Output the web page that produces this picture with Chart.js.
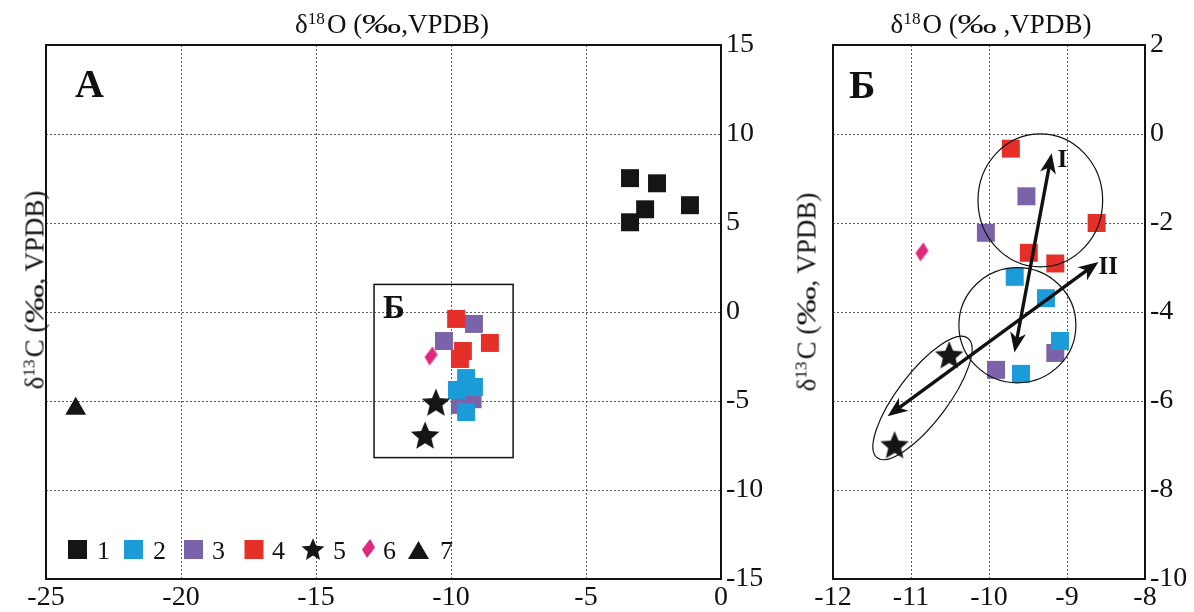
<!DOCTYPE html>
<html><head><meta charset="utf-8">
<script src="https://cdn.jsdelivr.net/npm/chart.js@4.4.1/dist/chart.umd.min.js"></script>
<style>
html,body{margin:0;padding:0;background:#fff;width:1194px;height:612px;overflow:hidden}
#c1{position:absolute;left:0;top:0}
#c2{position:absolute;left:770px;top:0}
.t{position:absolute;font-family:'Liberation Serif','Times New Roman',serif;font-size:27px;color:#111;white-space:nowrap;line-height:1.15}
.t sup{font-size:0.64em;vertical-align:0.5em;line-height:0;margin-right:2px}
.pm{display:inline-block;transform:scaleX(1.45);margin:0 6px}
</style></head>
<body>
<canvas id="c1" width="770" height="612"></canvas>
<canvas id="c2" width="424" height="612"></canvas>
<div class="t" style="left:392px;top:25px;transform:translate(-50%,-50%)">δ<sup>18</sup>O (<span class="pm">‰</span>,VPDB)</div>
<div class="t" style="left:991px;top:25px;transform:translate(-50%,-50%)">δ<sup>18</sup>O (<span class="pm">‰</span> ,VPDB)</div>
<div class="t" style="left:35px;top:290px;transform:translate(-50%,-50%) rotate(-90deg)">δ<sup>13</sup>C (<span class="pm">‰</span>, VPDB)</div>
<div class="t" style="left:807px;top:292px;transform:translate(-50%,-50%) rotate(-90deg)">δ<sup>13</sup>C (<span class="pm">‰</span>, VPDB)</div>
<script>
// ---------------- DATA ----------------
const seriesLabels = ['1','2','3','4','5','6','7'];

// Panel A (overview)
const xTicksA = [-25,-20,-15,-10,-5,0];
const yTicksA = [-15,-10,-5,0,5,10,15];
const A1_d18O = [-3.37,-2.37,-2.81,-1.15,-3.37];
const A1_d13C = [7.52,7.23,5.77,6.00,5.04];
const A2_d18O = [-9.44,-9.78,-9.15,-9.44];
const A2_d13C = [-3.71,-4.38,-4.21,-5.62];
const A3_d18O = [-9.15,-10.26,-9.67,-9.20];
const A3_d13C = [-0.67,-1.63,-5.22,-4.90];
const A4_d18O = [-9.81,-8.56,-9.56,-9.67];
const A4_d13C = [-0.39,-1.74,-2.19,-2.64];
const A5_d18O = [-10.56,-10.96];
const A5_d13C = [-5.06,-6.91];
const A6_d18O = [-10.74];
const A6_d13C = [-2.47];
const A7_d18O = [-23.9];
const A7_d13C = [-5.43];
const boxB = [-12.85, 1.55, -7.70, -8.18]; // x1, y1, x2, y2 of inset frame

// Panel Б (detail)
const xTicksB = [-12,-11,-10,-9,-8];
const yTicksB = [-10,-8,-6,-4,-2,0,2];
const B2_d18O = [-9.67,-9.27,-9.09,-9.59];
const B2_d13C = [-3.21,-3.69,-4.65,-5.39];
const B3_d18O = [-9.52,-10.04,-9.91,-9.15];
const B3_d13C = [-1.40,-2.22,-5.30,-4.92];
const B4_d18O = [-9.72,-8.62,-9.49,-9.15];
const B4_d13C = [-0.33,-2.00,-2.67,-2.91];
const B5_d18O = [-10.51,-11.21];
const B5_d13C = [-4.96,-6.98];
const B6_d18O = [-10.86];
const B6_d13C = [-2.65];
// annotations (data units)
const ellipseI  = [-9.342,-1.492,0.799,1.493];  // cx, cy, rx, ry
const ellipseII = [-9.636,-4.297,0.750,1.294];
const ellipseStars = [-11.434,-7.275,-10.271,-4.589]; // major-axis ends
const arrowI  = [-9.674,-4.91,-9.197,-0.433];
const arrowII = [-11.30,-6.34,-8.597,-2.874];
const labelI  = [-9.06,-0.60];
const labelII = [-8.47,-3.01];

// ---------------- STYLE ----------------
const FONT = "'Liberation Serif','Times New Roman',serif";
const COL = {k:'#151515', blue:'#1b9bd8', purple:'#7a63a8', red:'#e5302a', pink:'#e1287f'};

function makeStar(R, inner, color){
  const s = Math.ceil(2*R)+2, c = document.createElement('canvas');
  c.width = s; c.height = s;
  const g = c.getContext('2d'); g.fillStyle = color; g.beginPath();
  for (let i=0;i<10;i++){
    const r = i%2 ? R*inner : R, a = -Math.PI/2 + i*Math.PI/5;
    const px = s/2 + r*Math.cos(a), py = s/2 + 0.1*R + r*Math.sin(a);
    i ? g.lineTo(px,py) : g.moveTo(px,py);
  }
  g.closePath(); g.fill(); return c;
}
function makeDiamond(w,h,color){
  const c = document.createElement('canvas'); c.width = w+2; c.height = h+2;
  const g = c.getContext('2d'); g.fillStyle = color; g.beginPath();
  g.moveTo(1+w*0.62,1); g.lineTo(1+w,1+h*0.45); g.lineTo(1+w*0.38,1+h); g.lineTo(1,1+h*0.55);
  g.closePath(); g.fill(); return c;
}
const starImg = makeStar(15,0.45,COL.k);
const starLeg = makeStar(12,0.45,COL.k);
const diaImg = makeDiamond(13,19,COL.pink);
const diaLeg = makeDiamond(13,19,COL.pink);

function pts(xs,ys){ return xs.map((v,i)=>({x:v,y:ys[i]})); }
function sq(label,data,color,order){ return {label,data,pointStyle:'rect',pointRadius:12.7,backgroundColor:color,borderColor:color,borderWidth:0,order}; }

function xAxis(tk){
  return {type:'linear',position:'bottom',min:tk[0],max:tk[tk.length-1],
    afterBuildTicks:s=>{s.ticks = tk.map(v=>({value:v}));},
    afterFit:s=>{s.height = 33;},
    ticks:{font:{family:FONT,size:28},color:'#111',padding:2,maxRotation:0,autoSkip:false,callback:(v,i)=>String(tk[i])},
    grid:{color:'#5a5a5a',lineWidth:1,drawTicks:false},
    border:{display:false,dash:[2,2]}};
}
function yAxis(tk){
  return {type:'linear',position:'right',min:tk[0],max:tk[tk.length-1],
    afterBuildTicks:s=>{s.ticks = tk.map(v=>({value:v}));},
    afterFit:s=>{s.width = 49;},
    ticks:{font:{family:FONT,size:28},color:'#111',padding:5,autoSkip:false,callback:(v,i)=>String(tk[i])},
    grid:{color:'#5a5a5a',lineWidth:1,drawTicks:false},
    border:{display:false,dash:[2,2]}};
}

const framePlugin = {id:'frame', afterDraw(chart){
  const {ctx,chartArea:a} = chart; ctx.save(); ctx.strokeStyle='#111'; ctx.lineWidth=2;
  ctx.strokeRect(a.left,a.top,a.right-a.left,a.bottom-a.top); ctx.restore();
}};

function panelLetter(text,dx,base){ return {id:'letter'+text, afterDraw(chart){
  const {ctx,chartArea:a} = chart; ctx.save(); ctx.fillStyle='#111';
  ctx.font = "bold 40px "+FONT; ctx.textBaseline='alphabetic'; ctx.fillText(text,a.left+dx,base); ctx.restore();
}};}

const legendPlugin = {id:'legendA', afterDraw(chart){
  const ctx = chart.ctx; ctx.save();
  const mx = [77.5,133.5,193.5,254,313,368.5,418.5], tx = [97,153,212,272,333,383,440], base = 558.5;
  chart.data.datasets.forEach((ds,i)=>{
    const st = ds.pointStyle, c = mx[i];
    ctx.fillStyle = ds.backgroundColor;
    if (st === 'rect') ctx.fillRect(c-9.5,540,19,19);
    else if (st === 'triangle'){ ctx.beginPath(); ctx.moveTo(c,541); ctx.lineTo(c+10.5,559); ctx.lineTo(c-10.5,559); ctx.closePath(); ctx.fill(); }
    else if (st === starImg) ctx.drawImage(starLeg,c-starLeg.width/2,549-starLeg.height/2);
    else if (st === diaImg) ctx.drawImage(diaLeg,c-diaLeg.width/2,548.5-diaLeg.height/2);
    ctx.fillStyle='#111'; ctx.font = "26px "+FONT; ctx.textBaseline='alphabetic';
    ctx.fillText(ds.label,tx[i],base);
  });
  ctx.restore();
}};

const boxPlugin = {id:'boxB', afterDatasetsDraw(chart){
  const {ctx,scales:{x,y}} = chart;
  const x0=x.getPixelForValue(boxB[0]), y0=y.getPixelForValue(boxB[1]), x1=x.getPixelForValue(boxB[2]), y1=y.getPixelForValue(boxB[3]);
  ctx.save(); ctx.strokeStyle='#111'; ctx.lineWidth=1.5; ctx.strokeRect(x0,y0,x1-x0,y1-y0);
  ctx.fillStyle='#111'; ctx.font="bold 33px "+FONT; ctx.textBaseline='alphabetic'; ctx.fillText('Б',x0+9,y0+34);
  ctx.restore();
}};

function drawHead(ctx,x,y,a){
  const L=20, W=8;
  const c=Math.cos(a), s=Math.sin(a);
  ctx.beginPath(); ctx.moveTo(x,y);
  ctx.lineTo(x-L*c-W*s, y-L*s+W*c);
  ctx.lineTo(x-0.72*L*c, y-0.72*L*s);
  ctx.lineTo(x-L*c+W*s, y-L*s-W*c);
  ctx.closePath(); ctx.fill();
}
function drawArrow(ctx,x1,y1,x2,y2){
  const a=Math.atan2(y2-y1,x2-x1), c=Math.cos(a), s=Math.sin(a), k=14;
  ctx.beginPath(); ctx.moveTo(x1+k*c,y1+k*s); ctx.lineTo(x2-k*c,y2-k*s); ctx.stroke();
  drawHead(ctx,x2,y2,a); drawHead(ctx,x1,y1,a+Math.PI);
}
const annoPlugin = {id:'annoB', afterDatasetsDraw(chart){
  const {ctx,scales:{x,y}} = chart; const X=v=>x.getPixelForValue(v), Y=v=>y.getPixelForValue(v);
  ctx.save(); ctx.strokeStyle='#111'; ctx.fillStyle='#111'; ctx.lineWidth=1.2;
  [ellipseI,ellipseII].forEach(e=>{
    ctx.beginPath(); ctx.ellipse(X(e[0]),Y(e[1]),Math.abs(X(e[0]+e[2])-X(e[0])),Math.abs(Y(e[1]+e[3])-Y(e[1])),0,0,Math.PI*2); ctx.stroke();
  });
  const ax=X(ellipseStars[0]), ay=Y(ellipseStars[1]), bx=X(ellipseStars[2]), by=Y(ellipseStars[3]);
  ctx.beginPath(); ctx.ellipse((ax+bx)/2,(ay+by)/2,Math.hypot(bx-ax,by-ay)/2,25,Math.atan2(by-ay,bx-ax),0,Math.PI*2); ctx.stroke();
  ctx.lineWidth=3.4;
  drawArrow(ctx,X(arrowI[0]),Y(arrowI[1]),X(arrowI[2]),Y(arrowI[3]));
  drawArrow(ctx,X(arrowII[0]),Y(arrowII[1]),X(arrowII[2]),Y(arrowII[3]));
  ctx.font="bold 25px "+FONT; ctx.textAlign='center'; ctx.textBaseline='middle';
  ctx.fillText('I',X(labelI[0]),Y(labelI[1]));
  ctx.fillText('II',X(labelII[0]),Y(labelII[1]));
  ctx.restore();
}};

const common = {responsive:false,animation:false,events:[],
  plugins:{legend:{display:false},tooltip:{enabled:false},title:{display:false}}};

new Chart(document.getElementById('c1'),{
  type:'scatter',
  data:{datasets:[
    sq(seriesLabels[0],pts(A1_d18O,A1_d13C),COL.k,5),
    sq(seriesLabels[1],pts(A2_d18O,A2_d13C),COL.blue,2),
    sq(seriesLabels[2],pts(A3_d18O,A3_d13C),COL.purple,4),
    sq(seriesLabels[3],pts(A4_d18O,A4_d13C),COL.red,3),
    {label:seriesLabels[4],data:pts(A5_d18O,A5_d13C),pointStyle:starImg,pointRadius:12,backgroundColor:COL.k,borderWidth:0,order:0},
    {label:seriesLabels[5],data:pts(A6_d18O,A6_d13C),pointStyle:diaImg,pointRadius:9,backgroundColor:COL.pink,borderWidth:0,order:1},
    {label:seriesLabels[6],data:pts(A7_d18O,A7_d13C),pointStyle:'triangle',pointRadius:12,backgroundColor:COL.k,borderColor:COL.k,borderWidth:0,order:6}
  ]},
  options:Object.assign({},common,{layout:{padding:{left:46,top:45,right:0,bottom:0}},
    scales:{x:xAxis(xTicksA),y:yAxis(yTicksA)}}),
  plugins:[framePlugin,boxPlugin,legendPlugin,panelLetter('А',29,97)]
});

new Chart(document.getElementById('c2'),{
  type:'scatter',
  data:{datasets:[
    sq(seriesLabels[1],pts(B2_d18O,B2_d13C),COL.blue,2),
    sq(seriesLabels[2],pts(B3_d18O,B3_d13C),COL.purple,4),
    sq(seriesLabels[3],pts(B4_d18O,B4_d13C),COL.red,3),
    {label:seriesLabels[4],data:pts(B5_d18O,B5_d13C),pointStyle:starImg,pointRadius:12,backgroundColor:COL.k,borderWidth:0,order:0},
    {label:seriesLabels[5],data:pts(B6_d18O,B6_d13C),pointStyle:diaImg,pointRadius:9,backgroundColor:COL.pink,borderWidth:0,order:1}
  ]},
  options:Object.assign({},common,{layout:{padding:{left:63,top:45,right:0,bottom:0}},
    scales:{x:xAxis(xTicksB),y:yAxis(yTicksB)}}),
  plugins:[framePlugin,annoPlugin,panelLetter('Б',16,98)]
});
</script>
</body></html>
